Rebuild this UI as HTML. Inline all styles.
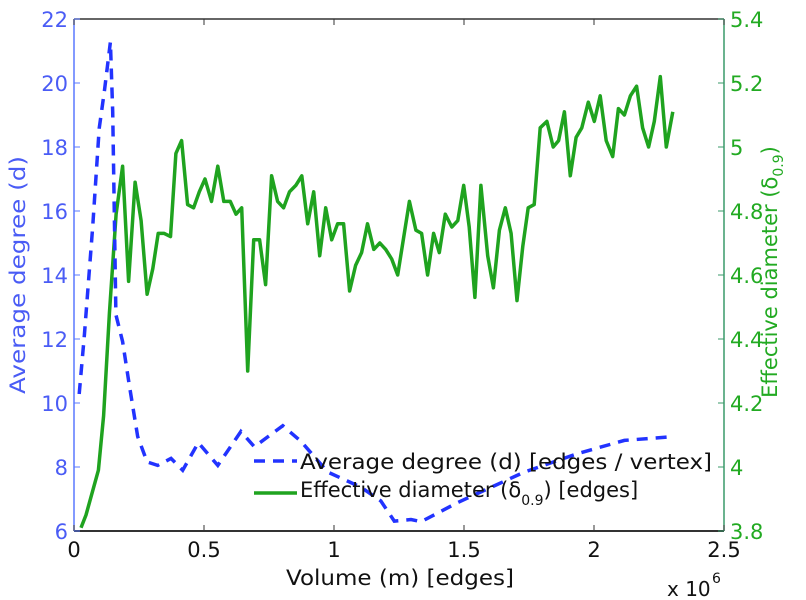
<!DOCTYPE html>
<html><head><meta charset="utf-8"><style>
body{margin:0;background:#fff}
svg{display:block;font-family:"DejaVu Sans","Liberation Sans",sans-serif}
</style></head><body>
<svg id="chart" width="806" height="600" viewBox="0 0 806 600">
<rect width="806" height="600" fill="#fff"/>
<g id="g"></g>
</svg>
<script>
const volX = [0.027,0.046,0.094,0.114,0.136,0.162,0.187,0.21,0.235,0.258,0.281,0.303,0.324,0.347,0.371,0.392,0.414,0.437,0.46,0.482,0.504,0.529,0.553,0.576,0.601,0.623,0.645,0.668,0.691,0.714,0.737,0.76,0.783,0.806,0.829,0.853,0.876,0.899,0.922,0.945,0.968,0.991,1.014,1.037,1.06,1.083,1.106,1.129,1.153,1.176,1.199,1.222,1.245,1.29,1.315,1.337,1.36,1.383,1.405,1.428,1.453,1.476,1.499,1.52,1.542,1.565,1.591,1.613,1.636,1.659,1.681,1.704,1.726,1.747,1.77,1.793,1.819,1.843,1.864,1.886,1.909,1.931,1.953,1.978,2.001,2.024,2.047,2.072,2.094,2.117,2.14,2.164,2.187,2.21,2.232,2.255,2.278,2.303];
const diameter = [3.81,3.85,3.99,4.16,4.48,4.79,4.94,4.58,4.89,4.77,4.54,4.62,4.73,4.73,4.72,4.98,5.02,4.82,4.81,4.86,4.90,4.83,4.94,4.83,4.83,4.79,4.81,4.30,4.71,4.71,4.57,4.91,4.83,4.81,4.86,4.88,4.91,4.76,4.86,4.66,4.81,4.71,4.76,4.76,4.55,4.63,4.67,4.76,4.68,4.70,4.68,4.65,4.60,4.83,4.74,4.73,4.60,4.73,4.67,4.79,4.75,4.77,4.88,4.75,4.53,4.88,4.66,4.56,4.74,4.81,4.73,4.52,4.69,4.81,4.82,5.06,5.08,5.00,5.02,5.11,4.91,5.03,5.06,5.14,5.08,5.16,5.02,4.97,5.12,5.10,5.16,5.19,5.06,5.00,5.08,5.22,5.00,5.11];
const degX = [0.02,0.04,0.072,0.097,0.117,0.14,0.149,0.155,0.161,0.187,0.213,0.245,0.281,0.322,0.373,0.418,0.478,0.553,0.642,0.694,0.803,0.873,0.976,1.104,1.18,1.232,1.296,1.335,1.476,1.732,1.937,2.117,2.303];
const degree = [10.28,12.13,15.51,18.58,19.75,21.28,19.1,15.94,12.76,11.92,10.54,8.95,8.16,8.05,8.27,7.9,8.76,8.05,9.11,8.63,9.29,8.8,7.84,7.37,6.94,6.31,6.36,6.29,6.89,7.84,8.42,8.83,8.95];
const xTicks = [0,0.5,1,1.5,2,2.5];
const xTickLabels = ["0","0.5","1","1.5","2","2.5"];
const yLTicks = [6,8,10,12,14,16,18,20,22];
const yRTicks = [3.8,4,4.2,4.4,4.6,4.8,5,5.2,5.4];

const L=74,R=724,T=19,B=531;
const sx=v=>L+(v-0)/2.5*(R-L);
const syL=v=>B-(v-6)/16*(B-T);
const syR=v=>B-(v-3.8)/1.6*(B-T);
const NS="http://www.w3.org/2000/svg";
const g=document.getElementById('g');
function mk(tag,attrs,parent){const e=document.createElementNS(NS,tag);for(const k in attrs)e.setAttribute(k,attrs[k]);(parent||g).appendChild(e);return e;}
function txt(s,x,y,attrs){const e=mk('text',Object.assign({x:x,y:y},attrs));e.textContent=s;return e;}

let e;
e=mk('line',{x1:L,y1:T,x2:R,y2:T,stroke:'#333','stroke-width':1.5});


e=mk('line',{x1:L,y1:B,x2:R,y2:B,stroke:'#333','stroke-width':2});


e=mk('line',{x1:L,y1:T,x2:L,y2:B,stroke:'#5a78ff','stroke-width':1.5});


e=mk('line',{x1:R,y1:T,x2:R,y2:B,stroke:'#3a9a6a','stroke-width':1.5});



xTicks.forEach((v,i)=>{
  const x=sx(v);
  e=mk('line',{x1:x,y1:B,x2:x,y2:B-6,stroke:'#333','stroke-width':1});
  
  
  e=mk('line',{x1:x,y1:T,x2:x,y2:T+6,stroke:'#333','stroke-width':1});
  
  
  e=txt(xTickLabels[i],x,557,{'font-size':21,'text-anchor':'middle',fill:'#111'});
  
  
});
yLTicks.forEach(v=>{
  const y=syL(v);
  e=mk('line',{x1:L,y1:y,x2:L+6,y2:y,stroke:'#5a78ff','stroke-width':1});
  
  
  e=txt(String(v),L-6,y+8,{'font-size':21,'text-anchor':'end',fill:'#4a5cf5'});
  
  
});
yRTicks.forEach(v=>{
  const y=syR(v);
  e=mk('line',{x1:R,y1:y,x2:R-6,y2:y,stroke:'#3a9a6a','stroke-width':1});
  
  
  e=txt(v.toFixed(1).replace(/^4\.0$/,'4').replace(/^5\.0$/,'5'),R+6,y+8,{'font-size':21,'text-anchor':'start',fill:'#22aa22'});
  
  
});

let d=volX.map((v,i)=>(i?'L':'M')+sx(v).toFixed(1)+','+syR(diameter[i]).toFixed(1)).join('');
e=mk('path',{d:d,fill:'none',stroke:'#1fa31f','stroke-width':3.5,'stroke-linejoin':'round'});


d=degX.map((v,i)=>(i?'L':'M')+sx(v).toFixed(1)+','+syL(degree[i]).toFixed(1)).join('');
e=mk('path',{d:d,fill:'none',stroke:'#2233ff','stroke-width':3.5,'stroke-dasharray':'11,8'});



e=txt('Volume (m) [edges]',400,585,{'font-size':21,'text-anchor':'middle',fill:'#111',textLength:228,lengthAdjust:'spacingAndGlyphs'});


e=txt('x 10',667,596,{'font-size':20,fill:'#111'});


e=txt('6',712,583,{'font-size':14,fill:'#111'});


e=txt('Average degree (d)',25,275,{'font-size':21,'text-anchor':'middle',fill:'#4a5cf5',transform:'rotate(-90 25 275)',textLength:238,lengthAdjust:'spacingAndGlyphs'});


e=mk('text',{x:777,y:272,'font-size':21,'text-anchor':'middle',fill:'#22aa22',transform:'rotate(-90 777 272)'});
e.innerHTML='Effective diameter (δ<tspan font-size="14" dy="6">0.9</tspan><tspan dy="-6">)</tspan>';



e=mk('line',{x1:254,y1:461,x2:297,y2:461,stroke:'#2233ff','stroke-width':3.5,'stroke-dasharray':'11,8'});


e=txt('Average degree (d) [edges / vertex]',300,469,{'font-size':21,fill:'#111',textLength:412,lengthAdjust:'spacingAndGlyphs'});


e=mk('line',{x1:254,y1:493,x2:297,y2:493,stroke:'#1fa31f','stroke-width':3.5});


e=mk('text',{x:300,y:497,'font-size':21,fill:'#111'});
e.innerHTML='Effective diameter (δ<tspan font-size="14" dy="8">0.9</tspan><tspan dy="-8">) [edges]</tspan>';


</script>
</body></html>
